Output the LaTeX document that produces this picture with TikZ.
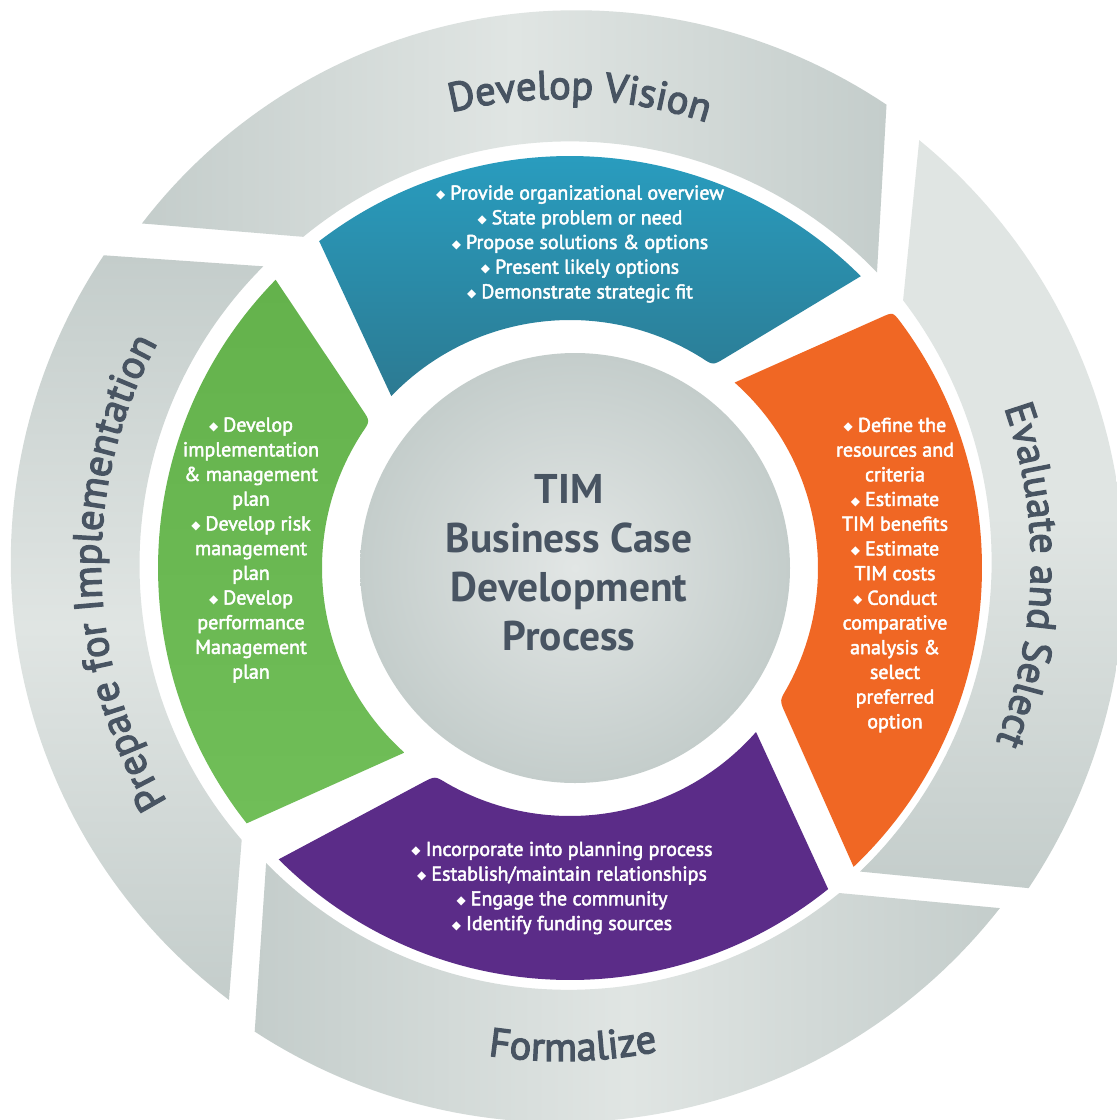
\documentclass[tikz,border=0pt]{standalone}
\usepackage{fontspec}
\setmainfont{PT Sans}
\newfontfamily\semib{PT Sans}[FakeBold=2.4]
\newfontfamily\semil{PT Sans}[FakeBold=3]
\newfontfamily\symf{DejaVu Sans}
\usetikzlibrary{calc,decorations.text}

\definecolor{grayL}{RGB}{224,229,227}
\definecolor{grayD}{RGB}{196,205,203}
\definecolor{circL}{RGB}{226,230,229}
\definecolor{circD}{RGB}{196,205,203}
\definecolor{blueL}{RGB}{40,162,198}
\definecolor{blueD}{RGB}{44,122,146}
\definecolor{orangeC}{RGB}{240,103,36}
\definecolor{purpleC}{RGB}{91,44,136}
\definecolor{greenL}{RGB}{112,190,88}
\definecolor{greenD}{RGB}{100,178,76}
\definecolor{labelc}{RGB}{72,84,98}

% small white diamond bullet
\newcommand\bul{{\symf\fontsize{12}{12}\selectfont\raisebox{0.08em}{◆}}\hspace{0.25em}}
% font of the curved ring labels
\newcommand\lblfont{\semil\fontsize{40.5}{40.5}\selectfont\color{labelc}}

% grey ring piece: outer spiral edge (angles #1->#2, radii #3->#4),
% inner spiral edge traversed back (angles #5->#6, radii #7->#8)
\newcommand\graypath[8]{%
  plot[domain=0:1,samples=70,variable=\q]
    ({561+(#3+(#4-#3)*\q)*cos(#1+(#2-#1)*\q)},{564+(#3+(#4-#3)*\q)*sin(#1+(#2-#1)*\q)})
  -- plot[domain=0:1,samples=70,variable=\q]
    ({561+(#7+(#8-#7)*\q)*cos(#5+(#6-#5)*\q)},{564+(#7+(#8-#7)*\q)*sin(#5+(#6-#5)*\q)})
  -- cycle}

\begin{document}
\begin{tikzpicture}[x=1pt,y=-1pt,
  coltext/.style={font=\semib\fontsize{20}{24.7}\selectfont,text=white,align=center,inner sep=0pt},
  title/.style={font=\bfseries\fontsize{41.5}{49}\selectfont,text=labelc,align=center,inner sep=0pt},
  ringlabel/.style={decorate,decoration={text along path,text align=center,text={|\lblfont|#1}}}]

\fill[white] (0,0) rectangle (1117,1120);
\useasboundingbox (0,0) rectangle (1117,1120);

\coordinate (G) at (561,564);
\coordinate (K) at (570,568);
\coordinate (C) at (575,568);

% ---------- outer grey ring ----------
\shade[left color=grayD,right color=grayD,middle color=grayL]
  \graypath{219.1}{305.4}{540}{563}{317.3}{231.7}{430}{416.5};
\shade[top color=grayL,bottom color=grayD,middle color=grayL]
  \graypath{310.2}{394.8}{555}{569}{405.8}{322.3}{429}{432};
\shade[left color=grayD,right color=grayD,middle color=grayL]
  \graypath{398.1}{483.3}{557.7}{559}{494.6}{409.7}{420}{431};
\shade[top color=grayD,bottom color=grayD,middle color=grayL]
  \graypath{487.3}{574.1}{548}{551.7}{585}{499.1}{421}{422};

% ---------- coloured ring corners ----------
\coordinate (b1) at ($(K)+(232.5:412)$);
\coordinate (b2) at ($(K)+(314.9:412)$);
\coordinate (b3) at ($(K)+(305.2:248)$);
\coordinate (o1) at ($(K)+(321.6:412)$);
\coordinate (o2) at ($(K)+(406.5:412)$);
\coordinate (o3) at ($(K)+(392.3:248)$);
\coordinate (o4) at ($(K)+(311.6:248)$);
\coordinate (p1) at ($(K)+(51.2:412)$);
\coordinate (p2) at ($(K)+(135:412)$);
\coordinate (p3) at ($(K)+(123:248)$);
\coordinate (g1) at ($(K)+(141.7:412)$);
\coordinate (g2) at ($(K)+(224.4:412)$);
\coordinate (g3) at ($(K)+(216.3:248)$);

% blue (top)
\shade[top color=blueL,bottom color=blueD]
  (b1) arc[start angle=232.5,end angle=314.9,radius=412]
  -- ($(b3)!14pt!(b2)$) .. controls (b3) .. ($(K)+(302:248)$)
  arc[start angle=302,end angle=223.9,radius=248] -- cycle;
% orange (right)
\fill[orangeC]
  (o4) -- ($(o1)!12pt!(o4)$) .. controls (o1) .. ($(K)+(323.3:412)$)
  arc[start angle=323.3,end angle=406.5,radius=412]
  -- ($(o3)!14pt!(o2)$) .. controls (o3) .. ($(K)+(389.1:248)$)
  arc[start angle=389.1,end angle=311.6,radius=248] -- cycle;
% purple (bottom)
\fill[purpleC]
  (p1) arc[start angle=51.2,end angle=135,radius=412]
  -- ($(p3)!14pt!(p2)$) .. controls (p3) .. ($(K)+(119.8:248)$)
  arc[start angle=119.8,end angle=41.4,radius=248] -- cycle;
% green (left)
\shade[top color=greenD,bottom color=greenL]
  (g1) arc[start angle=141.7,end angle=224.4,radius=412]
  -- ($(g3)!14pt!(g2)$) .. controls (g3) .. ($(K)+(213.1:248)$)
  arc[start angle=213.1,end angle=131.9,radius=248] -- cycle;

% ---------- centre disc ----------
\shade[inner color=circL,outer color=circD] (C) circle[radius=215];

% ---------- curved ring labels ----------
\path[ringlabel={Develop Vision}]
  ($(G)+(232.3:465)$) arc[start angle=232.3,end angle=312.3,radius=465];
\path[ringlabel={Evaluate and Select}]
  ($(G)+(-48.6:470)$) arc[start angle=-48.6,end angle=51.4,radius=470];
\path[ringlabel={Formalize}]
  ($(G)+(138.6:497)$) arc[start angle=138.6,end angle=38.6,radius=497];
\path[ringlabel={Prepare for Implementation}]
  ($(G)+(128.8:460)$) arc[start angle=128.8,end angle=228.8,radius=460];

% ---------- texts ----------
\node[title] (centre) at (569,563) {TIM\\Business Case\\Development\\Process};

\node[coltext] (vision) at (580,244) {\bul Provide organizational overview\\
  \bul State problem or need\\ \bul Propose solutions \& options\\
  \bul Present likely options\\ \bul Demonstrate strategic fit};

\node[coltext] (evaluate) at (895,575) {\bul Define the\\ resources and\\ criteria\\
  \bul Estimate\\ TIM benefits\\ \bul Estimate\\ TIM costs\\ \bul Conduct\\
  comparative\\ analysis \&\\ select\\ preferred\\ option};

\node[coltext] (formalize) at (562,888) {\bul Incorporate into planning process\\
  \bul Establish/maintain relationships\\ \bul Engage the community\\
  \bul Identify funding sources};

\node[coltext] (prepare) at (251,550) {\bul Develop\\ implementation\\ \& management\\ plan\\
  \bul Develop risk\\ management\\ plan\\ \bul Develop\\ performance\\ Management\\ plan};

\end{tikzpicture}
\end{document}
